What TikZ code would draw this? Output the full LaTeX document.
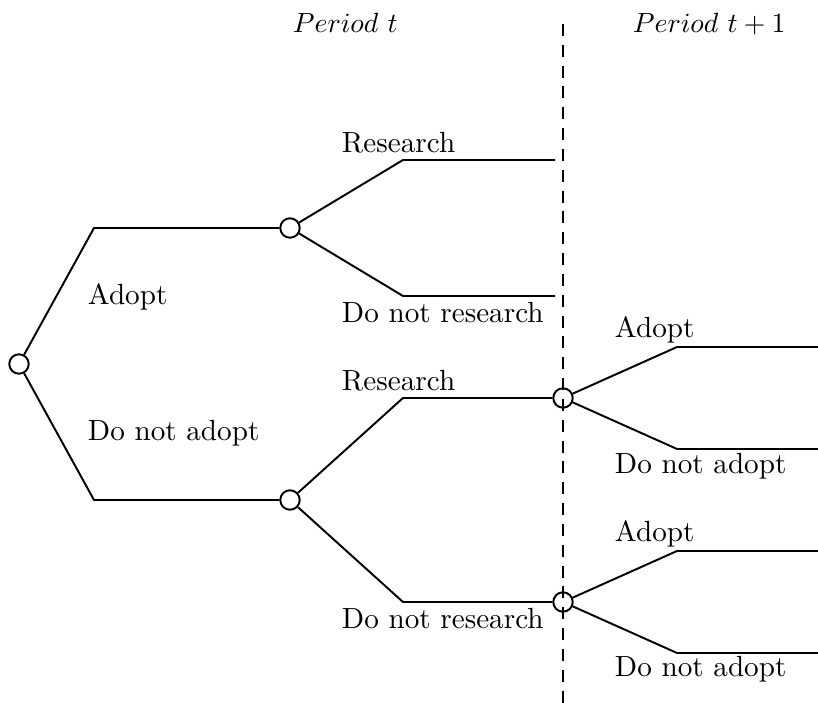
\documentclass[tikz,border=0pt]{standalone}
\usetikzlibrary{positioning}
\begin{document}
\begin{tikzpicture}[x=0.36pt,y=-0.36pt,line width=0.7pt,
    font=\fontsize{10.5pt}{13pt}\selectfont]
  \useasboundingbox (0,0) rectangle (818,703);

  % decision nodes
  \begin{scope}[every node/.style={circle,draw,inner sep=0pt,minimum size=7pt}]
    \node (r)  at (19,364)  {};
    \node (n1) at (290,228) {};
    \node (n2) at (290,500) {};
    \node (n3) at (563,398) {};
    \node (n4) at (563,602) {};
  \end{scope}

  % corners and loose ends
  \coordinate (ka) at (94,228);
  \coordinate (kb) at (94,500);
  \coordinate (k1) at (403,160);
  \coordinate (k2) at (403,296);
  \coordinate (k3) at (403,398);
  \coordinate (k4) at (403,602);
  \coordinate (e1) at (555,160);
  \coordinate (e2) at (555,296);
  \coordinate (k5) at (677,347);
  \coordinate (k6) at (677,449);
  \coordinate (k7) at (677,551);
  \coordinate (k8) at (677,653);
  \coordinate (e5) at (818,347);
  \coordinate (e6) at (818,449);
  \coordinate (e7) at (818,551);
  \coordinate (e8) at (818,653);
  \coordinate (top) at (563,24);
  \coordinate (bot) at (563,703);

  \draw (r) -- (ka) -- (n1);
  \draw (r) -- (kb) -- (n2);
  \draw (n1) -- (k1) -- (e1);
  \draw (n1) -- (k2) -- (e2);
  \draw (n2) -- (k3) -- (n3);
  \draw (n2) -- (k4) -- (n4);
  \draw (n3) -- (k5) -- (e5);
  \draw (n3) -- (k6) -- (e6);
  \draw (n4) -- (k7) -- (e7);
  \draw (n4) -- (k8) -- (e8);

  \draw[dash pattern=on 4.3pt off 3.2pt] (top) -- (bot);

  % labels
  \begin{scope}[every node/.style={anchor=base west,inner sep=0pt}]
    \node[font=\fontsize{10pt}{12pt}\selectfont] (pt)  at (292,33) {$Period\ t$};
    \node[font=\fontsize{10pt}{12pt}\selectfont] (pt1) at (632,33) {$Period\ t+1$};
    \node (l1)  at (341,153) {Research};
    \node (l2)  at (341,323) {Do not research};
    \node (l3)  at (87,305)  {Adopt};
    \node (l4)  at (87,441)  {Do not adopt};
    \node (l5)  at (341,391) {Research};
    \node (l6)  at (341,629) {Do not research};
    \node (l7)  at (614,338) {Adopt};
    \node (l8)  at (614,474) {Do not adopt};
    \node (l9)  at (614,542) {Adopt};
    \node (l10) at (614,677) {Do not adopt};
  \end{scope}

\end{tikzpicture}
\end{document}
